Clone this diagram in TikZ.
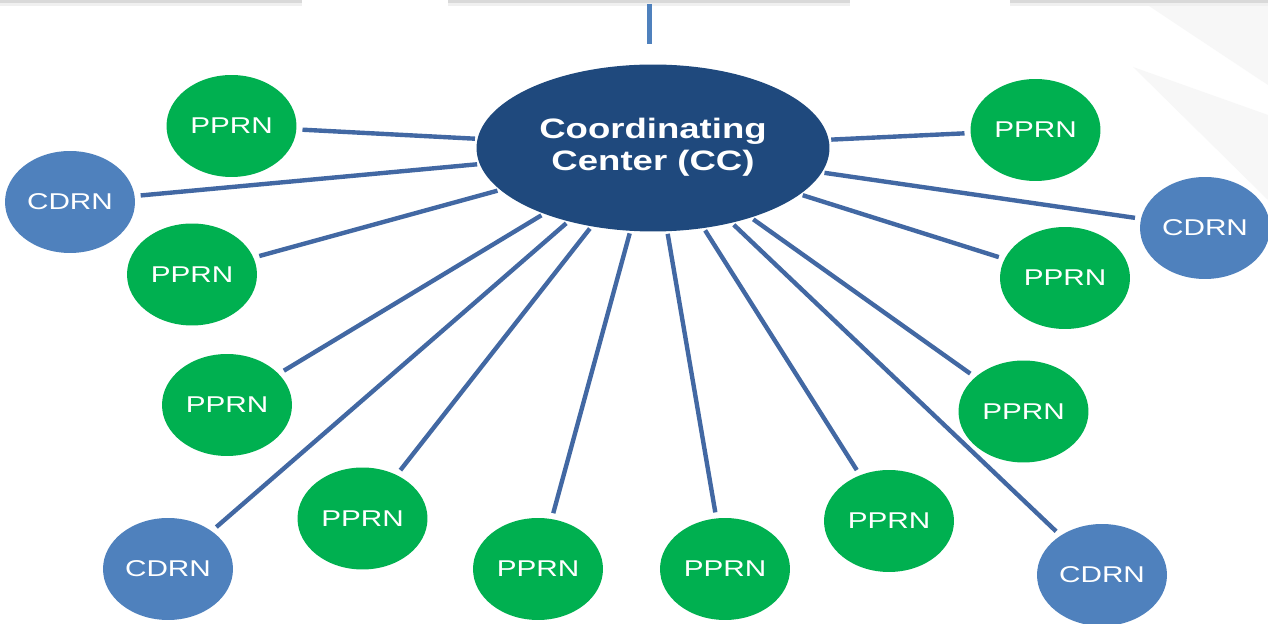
\documentclass[tikz,border=0pt]{standalone}
\usepackage{fontspec}
\setmainfont{Liberation Sans}
\usepackage{graphicx}
\usetikzlibrary{shapes.geometric}
\definecolor{pgreen}{RGB}{0,176,80}
\definecolor{cblue}{RGB}{79,129,189}
\definecolor{ccblue}{RGB}{31,73,125}
\definecolor{linkblue}{RGB}{66,104,163}
\newcommand{\widen}[1]{\scalebox{1.3}[1]{#1}}

\begin{document}
\begin{tikzpicture}[x=0.02cm,y=-0.02cm,
    net/.style={ellipse,minimum width=2.6cm,minimum height=2.04cm,inner sep=0pt,
      outer sep=3.5pt,text=white,font=\fontsize{13}{15}\selectfont},
    pprn/.style={net,fill=pgreen},
    cdrn/.style={net,fill=cblue},
    hub/.style={ellipse,fill=ccblue,minimum width=7.06cm,minimum height=3.34cm,
      inner sep=0pt,outer sep=1.5pt,text=white,font=\bfseries\fontsize{16}{18.5}\selectfont},
    link/.style={linkblue,line width=2.5pt}]
      \useasboundingbox (0,0) rectangle (1268,624);
      \fill[white] (0,0) rectangle (1268,624);
      % slide background
      \fill[gray!6] (1140,0) -- (1268,0) -- (1268,85) -- cycle;
      \fill[gray!6] (1133,67) -- (1268,115) -- (1268,200) -- cycle;
      \fill[gray!30] (0,0) rectangle (302,3);
      \fill[gray!30] (448,0) rectangle (850,3);
      \fill[gray!30] (1010,0) rectangle (1268,3);
      \fill[gray!12] (0,3) rectangle (302,6);
      \fill[gray!12] (448,3) rectangle (850,6);
      \fill[gray!12] (1010,3) rectangle (1268,6);
      \coordinate (up) at (649.5,4);
      \coordinate (upend) at (649.5,44);
      \draw[cblue,line width=2.8pt] (up) -- (upend);
      % centre
      \node[hub] (cc) at (653,148) {\raisebox{-2.3pt}{\widen{\begin{tabular}{@{}c@{}}Coordinating\\Center (CC)\end{tabular}}}};
      % networks
      \node[pprn] (p1) at (231.5,126) {\widen{PPRN}};
      \node[cdrn] (c1) at (70,202) {\widen{CDRN}};
      \node[pprn] (p2) at (192,274.5) {\widen{PPRN}};
      \node[pprn] (p3) at (227,405) {\widen{PPRN}};
      \node[cdrn] (c2) at (168,569) {\widen{CDRN}};
      \node[pprn] (p4) at (362.5,518.5) {\widen{PPRN}};
      \node[pprn] (p5) at (538,569) {\widen{PPRN}};
      \node[pprn] (p6) at (725,569) {\widen{PPRN}};
      \node[pprn] (p7) at (889,521) {\widen{PPRN}};
      \node[cdrn] (c3) at (1102,575) {\widen{CDRN}};
      \node[pprn] (p8) at (1023.5,411.5) {\widen{PPRN}};
      \node[pprn] (p9) at (1065,278) {\widen{PPRN}};
      \node[cdrn] (c4) at (1205,228) {\widen{CDRN}};
      \node[pprn] (p10) at (1035.5,130) {\widen{PPRN}};
      % spokes
      \draw[link] (cc) -- (p1);
      \draw[link] (cc) -- (c1);
      \draw[link] (cc) -- (p2);
      \draw[link] (cc) -- (p3);
      \draw[link] (cc) -- (c2);
      \draw[link] (cc) -- (p4);
      \draw[link] (cc) -- (p5);
      \draw[link] (cc) -- (p6);
      \draw[link] (cc) -- (p7);
      \draw[link] (cc) -- (c3);
      \draw[link] (cc) -- (p8);
      \draw[link] (cc) -- (p9);
      \draw[link] (cc) -- (c4);
      \draw[link] (cc) -- (p10);
\end{tikzpicture}
\end{document}
